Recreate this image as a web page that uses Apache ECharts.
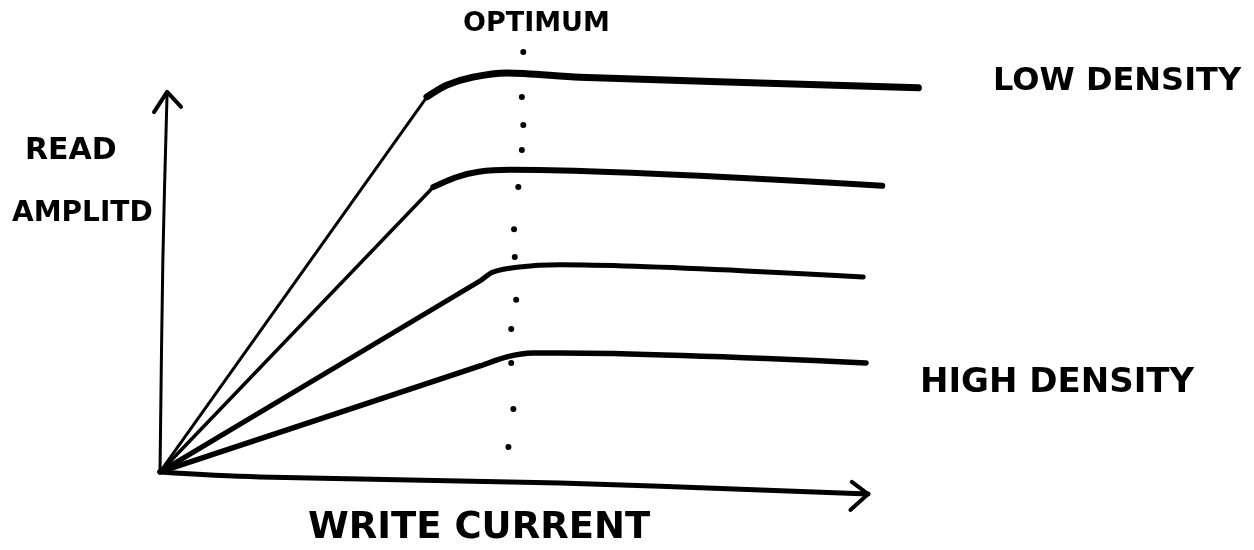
<!DOCTYPE html>
<html>
<head>
<meta charset="utf-8">
<script src="https://cdn.jsdelivr.net/npm/echarts@6/dist/echarts.min.js"></script>
<style>
  html, body { margin: 0; background: #fff; }
  #chart { width: 1254px; height: 550px; }
</style>
</head>
<body>
<div id="chart"></div>
<script>
// hand sketch: x = write current, y = read amplitude (0..100 at the arrow tips)
const xAxisLine = [[0, 0], [14.1, -1.3], [56.5, -2.9], [100, -5.8]];
const xArrow = [[97.7, -2.6], [100, -5.8], [97.5, -10]];
const yAxisLine = [[0, 0], [0.4, 55.8], [1.0, 100]];
const yArrow = [[-0.85, 94.7], [1.0, 100], [2.97, 96.1]];

// low density (top) -> high density (bottom): rise then plateau
const rise1 = [[0, 0], [37.7, 98.7]];
const flat1 = [[37.7, 98.7], [40.5, 101.8], [44.2, 103.9], [49.0, 105.0], [59.3, 103.9], [107.1, 101.1]];
const rise2 = [[0, 0], [38.6, 75.0]];
const flat2 = [[38.6, 75.0], [41.9, 77.6], [45.0, 79.0], [49.4, 79.5], [102.0, 75.3]];
const curve3 = [[0, 0], [45.2, 50.3], [47.0, 52.6], [50.4, 53.9], [56.5, 54.5], [99.3, 51.3]];
const curve4 = [[0, 0], [45.2, 27.9], [49.0, 30.3], [52.7, 31.3], [56.5, 31.3], [99.7, 28.7]];

// dotted "optimum" line
const optimumDots = [[51.3, 110.5], [51.1, 98.7], [51.3, 91.3], [51.1, 84.7], [50.6, 75.0], [50.0, 63.9],
  [50.1, 56.6], [50.3, 45.3], [49.6, 37.6], [49.6, 28.7], [49.9, 16.6], [49.2, 6.6]];

const labels = ['OPTIMUM', 'LOW DENSITY', 'HIGH DENSITY', 'WRITE CURRENT', 'READ', 'AMPLITD'];

const chart = echarts.init(document.getElementById('chart'));

function stroke(data, width, smooth) {
  return {
    type: 'line',
    data: data,
    symbol: 'none',
    smooth: smooth || false,
    silent: true,
    lineStyle: { color: '#000', width: width, cap: 'round', join: 'round' }
  };
}

function text(str, x, y, size) {
  return {
    type: 'text',
    left: x,
    top: y,
    style: {
      text: str,
      fill: '#000',
      font: 'bold ' + size + 'px "DejaVu Sans"'
    }
  };
}

const option = {
  animation: false,
  backgroundColor: '#fff',
  grid: { left: 0, right: 0, top: 0, bottom: 0 },
  xAxis: { type: 'value', min: -22.6, max: 154.5, show: false },
  yAxis: { type: 'value', min: -20.53, max: 124.2, show: false },
  series: [
    stroke(xAxisLine, 5, 0.4),
    stroke(xArrow, 4),
    stroke(yAxisLine, 3, 0.3),
    stroke(yArrow, 4),
    stroke(rise1, 3),
    stroke(flat1, 7, 0.3),
    stroke(rise2, 3.5),
    stroke(flat2, 6, 0.3),
    stroke(curve3, 5, 0.3),
    stroke(curve4, 5.5, 0.3),
    {
      type: 'scatter',
      data: optimumDots,
      symbol: 'circle',
      symbolSize: 6,
      silent: true,
      itemStyle: { color: '#000', opacity: 1 }
    }
  ],
  graphic: [
    text(labels[0], 463, 10, 27),
    text(labels[1], 993, 66, 32),
    text(labels[2], 920, 366, 34),
    text(labels[3], 308, 510, 37),
    text(labels[4], 25, 136, 30),
    text(labels[5], 12, 200, 28)
  ]
};

chart.setOption(option);
window.addEventListener('resize', () => chart.resize());
</script>
</body>
</html>
